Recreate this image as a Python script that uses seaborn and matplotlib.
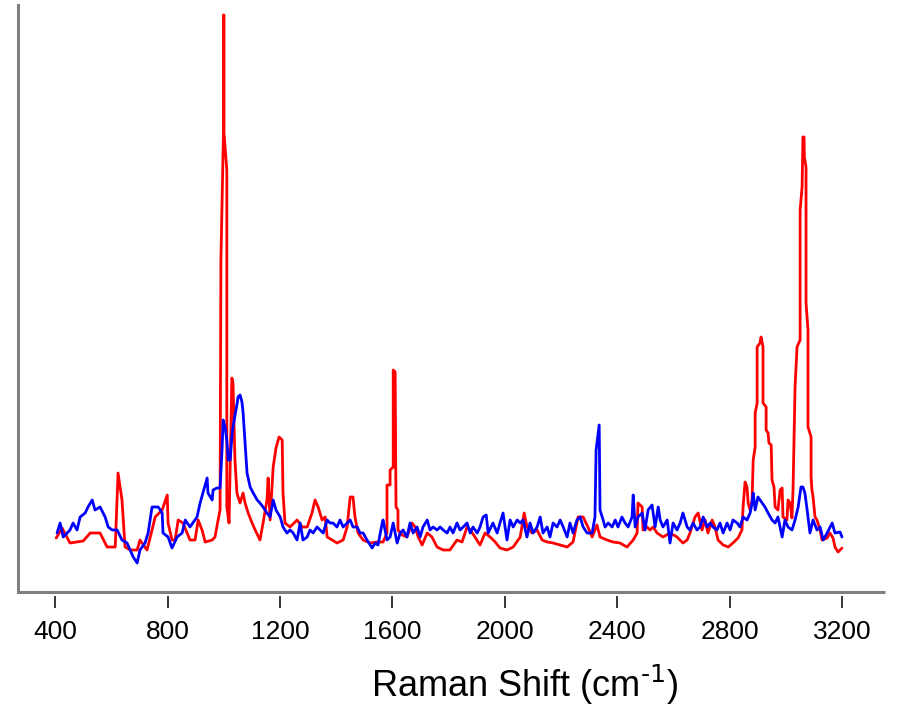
import numpy as np
import pandas as pd
import seaborn as sns
import matplotlib
matplotlib.use("Agg")
import matplotlib.pyplot as plt

#%% Spectra (x in cm-1, intensity in arbitrary units)
red_x = [404, 425, 453, 500, 525, 560, 585, 614, 624, 638, 649, 667, 692, 702, 727, 745, 756,
         781, 799, 802, 816, 827, 838, 855, 880, 898, 909, 923, 934, 959, 969, 980, 987, 990,
         999, 999, 1001, 1001, 1011, 1011, 1019, 1029, 1033, 1040, 1047, 1058, 1069, 1076, 1087,
         1101, 1112, 1129, 1140, 1154, 1158, 1165, 1176, 1186, 1197, 1208, 1211, 1218, 1236,
         1261, 1279, 1297, 1314, 1325, 1336, 1350, 1361, 1368, 1386, 1403, 1425, 1439, 1450,
         1460, 1467, 1478, 1496, 1521, 1546, 1567, 1581, 1581, 1592, 1592, 1603, 1603, 1610,
         1613, 1620, 1620, 1635, 1652, 1670, 1681, 1692, 1706, 1724, 1741, 1759, 1781, 1805,
         1830, 1848, 1866, 1877, 1894, 1912, 1930, 1948, 1966, 1983, 2008, 2030, 2055, 2069,
         2079, 2097, 2115, 2133, 2151, 2172, 2197, 2222, 2243, 2261, 2279, 2296, 2311, 2328,
         2339, 2364, 2385, 2410, 2435, 2457, 2471, 2474, 2489, 2492, 2506, 2517, 2528, 2542,
         2563, 2588, 2613, 2634, 2649, 2659, 2677, 2688, 2702, 2713, 2723, 2738, 2748, 2759,
         2777, 2795, 2812, 2830, 2844, 2848, 2855, 2862, 2866, 2873, 2880, 2884, 2891, 2891,
         2898, 2898, 2908, 2912, 2919, 2919, 2930, 2930, 2937, 2940, 2948, 2951, 2958, 2962,
         2972, 2980, 2987, 2990, 3004, 3008, 3015, 3022, 3026, 3033, 3040, 3051, 3051, 3058,
         3061, 3065, 3066, 3072, 3072, 3079, 3079, 3090, 3090, 3093, 3097, 3104, 3111, 3122,
         3129, 3147, 3157, 3168, 3175, 3186, 3200]
red_y = [54, 64, 49, 51, 59, 59, 45, 45, 119, 92, 45, 42, 42, 52, 42, 62, 75,
         82, 97, 69, 52, 52, 72, 69, 52, 52, 72, 62, 50, 52, 55, 72, 82, 332,
         459, 577, 577, 459, 422, 85, 69, 214, 209, 132, 99, 89, 99, 89, 79,
         69, 62, 52, 69, 92, 114, 72, 125, 144, 155, 152, 99, 69, 65,
         72, 65, 65, 79, 92, 85, 72, 75, 55, 52, 49, 52, 65, 95,
         95, 75, 59, 52, 49, 50, 50, 59, 107, 107, 122, 125, 222, 220,
         85, 82, 62, 57, 55, 69, 65, 55, 47, 59, 55, 45, 42, 42,
         52, 50, 65, 62, 55, 47, 59, 55, 50, 44, 42, 45, 55, 79,
         65, 59, 62, 52, 50, 49, 47, 45, 50, 75, 75, 65, 55, 67,
         55, 52, 50, 49, 45, 52, 59, 89, 85, 62, 65, 62, 65, 59,
         55, 59, 55, 49, 52, 59, 75, 79, 62, 72, 59, 72, 65, 52,
         47, 45, 49, 54, 62, 85, 110, 105, 89, 82, 92, 132, 145, 179,
         189, 245, 249, 255, 245, 189, 185, 162, 159, 149, 147, 112, 105, 85,
         82, 102, 104, 75, 72, 92, 89, 74, 105, 205, 245, 252, 382, 405,
         455, 455, 435, 425, 289, 262, 165, 155, 115, 102, 95, 75, 72, 62,
         52, 54, 59, 54, 45, 40, 44]

blue_x = [407, 418, 429, 453, 464, 478, 489, 507, 517, 532, 542, 560, 578, 589, 603, 621, 638,
          656, 667, 678, 692, 702, 720, 731, 745, 767, 781, 784, 802, 816, 834, 852, 863, 880,
          905, 916, 941, 944, 959, 962, 976, 987, 994, 998, 1005, 1012, 1016, 1023, 1030, 1033,
          1048, 1051, 1058, 1065, 1069, 1083, 1094, 1105, 1119, 1129, 1140, 1154, 1165, 1176,
          1186, 1201, 1211, 1225, 1236, 1247, 1261, 1272, 1282, 1297, 1307, 1318, 1332, 1343,
          1354, 1368, 1378, 1389, 1403, 1414, 1425, 1439, 1450, 1460, 1475, 1485, 1496, 1510,
          1528, 1539, 1549, 1564, 1567, 1581, 1592, 1603, 1617, 1628, 1638, 1652, 1663, 1674,
          1688, 1699, 1709, 1724, 1734, 1745, 1759, 1770, 1781, 1795, 1805, 1816, 1830, 1841,
          1852, 1866, 1877, 1887, 1902, 1912, 1923, 1934, 1941, 1958, 1973, 1983, 1994, 2008,
          2019, 2030, 2044, 2055, 2065, 2079, 2090, 2101, 2115, 2126, 2136, 2151, 2161, 2172,
          2186, 2197, 2208, 2222, 2232, 2243, 2257, 2268, 2279, 2293, 2311, 2321, 2325, 2336,
          2339, 2350, 2357, 2368, 2382, 2393, 2403, 2417, 2428, 2439, 2453, 2457, 2464, 2474,
          2489, 2499, 2510, 2524, 2535, 2546, 2553, 2563, 2578, 2588, 2599, 2613, 2624, 2634,
          2649, 2659, 2670, 2684, 2695, 2706, 2720, 2731, 2741, 2755, 2766, 2777, 2791, 2802,
          2812, 2827, 2837, 2848, 2862, 2873, 2880, 2884, 2891, 2901, 2916, 2926, 2937, 2951,
          2962, 2972, 2987, 2997, 3008, 3022, 3033, 3044, 3054, 3061, 3068, 3076, 3086, 3097,
          3111, 3122, 3133, 3147, 3165, 3175, 3193, 3200]
blue_y = [59, 69, 55, 62, 69, 62, 75, 79, 85, 92, 82, 85, 75, 65, 62, 62, 52,
          49, 42, 35, 29, 42, 49, 59, 85, 85, 79, 59, 55, 44, 55, 59, 72, 65,
          75, 89, 114, 99, 92, 102, 104, 104, 142, 172, 165, 149, 132, 132, 159, 165,
          189, 195, 197, 190, 179, 119, 105, 99, 92, 89, 85, 79, 75, 92,
          82, 75, 65, 59, 62, 59, 52, 69, 52, 55, 62, 59, 65, 62,
          59, 72, 69, 69, 65, 72, 65, 69, 72, 65, 65, 59, 59, 52,
          44, 49, 47, 69, 72, 52, 55, 69, 49, 59, 62, 55, 69, 59,
          65, 55, 65, 72, 62, 65, 62, 65, 62, 59, 65, 59, 69, 62,
          65, 69, 59, 65, 59, 65, 75, 77, 59, 69, 59, 69, 79, 52,
          72, 65, 72, 69, 72, 55, 69, 59, 65, 75, 59, 65, 55, 69,
          65, 72, 65, 55, 69, 59, 72, 75, 65, 59, 59, 75, 142, 167,
          82, 72, 65, 69, 65, 72, 65, 75, 69, 65, 75, 97, 65, 75,
          79, 62, 82, 87, 65, 85, 72, 65, 72, 49, 69, 62, 69, 79,
          65, 62, 69, 62, 65, 75, 65, 69, 65, 62, 69, 59, 69, 62,
          72, 69, 65, 75, 72, 79, 89, 99, 82, 95, 89, 85, 79, 72,
          69, 75, 55, 72, 65, 62, 72, 85, 105, 105, 99, 82, 59, 72,
          62, 65, 52, 59, 69, 59, 60, 55]

x_ticks = [400, 800, 1200, 1600, 2000, 2400, 2800, 3200]

red = pd.DataFrame({'shift': red_x, 'intensity': red_y})
blue = pd.DataFrame({'shift': blue_x, 'intensity': blue_y})

#%% Plot
sns.set_style("white")
plt.rcParams['font.family'] = ['Liberation Sans', 'DejaVu Sans']
plt.rcParams['mathtext.default'] = 'regular'
plt.rcParams['text.color'] = 'black'
plt.rcParams['axes.labelcolor'] = 'black'
plt.rcParams['xtick.color'] = 'black'

fig = plt.figure(figsize=(9.15, 7.05), dpi=100)
ax = fig.add_axes([18 / 915, 1 - 592 / 705, 867 / 915, 587 / 705])

sns.lineplot(data=red, x='shift', y='intensity', ax=ax, color='#ff0000',
             lw=2, sort=False, estimator=None)
sns.lineplot(data=blue, x='shift', y='intensity', ax=ax, color='#0000ff',
             lw=2, sort=False, estimator=None)

ax.set_xlim(268, 3353)
ax.set_ylim(0, 587)
ax.set_yticks([])
ax.set_xticks(x_ticks)
ax.set_ylabel('')
ax.set_xlabel(r'Raman Shift (cm$^{\text{-1}}$)', fontsize=26, labelpad=13,
              color='black')
# label sits right of centre in the original
ax.xaxis.label.set_x(0.585)

for side in ['top', 'right']:
    ax.spines[side].set_visible(False)
ax.spines['left'].set_color('#808080')
ax.spines['left'].set_linewidth(2.2)
# ticks hang a little below the axis line
ax.spines['bottom'].set_position(('outward', 3))
ax.spines['bottom'].set_visible(False)
ax.plot([0, 1], [0, 0], transform=ax.transAxes, color='#808080', lw=2.2,
        clip_on=False, solid_capstyle='butt')
ax.tick_params(axis='x', direction='out', length=8.5, width=1.1, color='black',
               labelcolor='black', labelsize=19, pad=9, bottom=True)

fig.savefig('out.png', dpi=100)
